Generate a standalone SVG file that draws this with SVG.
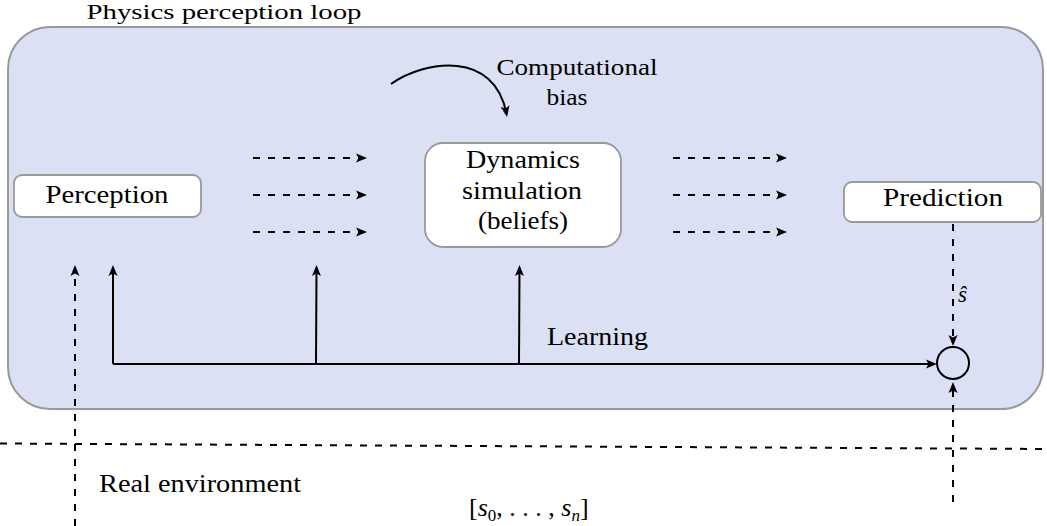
<svg xmlns="http://www.w3.org/2000/svg" width="1047" height="526" viewBox="0 0 1047 526" font-family="Liberation Serif, Times New Roman, serif">
<style>
.t{font-size:26px;fill:#000}
.title{font-size:22px}
.small{font-size:23px}
.node{fill:#fff;stroke:#999;stroke-width:1.8}
.ln{fill:none;stroke:#000;stroke-width:2}
.dash{fill:none;stroke:#000;stroke-width:2;stroke-dasharray:7 8}
</style>
<defs>
<marker id="arr" markerUnits="userSpaceOnUse" markerWidth="14" markerHeight="12" refX="8" refY="5" orient="auto">
<path d="M0,0.5 L11,5 L0,9.5 L2.5,5 z" fill="#000"/>
</marker>
</defs>
<rect width="1047" height="526" fill="#fff"/>
<g id="loop">
<rect x="8" y="27" width="1035" height="382" rx="42" ry="42" fill="#dbe0f4" stroke="#999" stroke-width="2"/>
<text class="t title" x="224" y="19" text-anchor="middle" textLength="275" lengthAdjust="spacingAndGlyphs">Physics perception loop</text>
</g>
<g id="perception">
<rect class="node" x="14" y="175" width="187" height="42" rx="8"/>
<text class="t" x="107" y="203" text-anchor="middle" textLength="123" lengthAdjust="spacingAndGlyphs">Perception</text>
</g>
<g id="dynamics">
<rect class="node" x="425" y="143" width="196" height="104" rx="18"/>
<text class="t" x="523" y="168" text-anchor="middle" textLength="114" lengthAdjust="spacingAndGlyphs">Dynamics</text>
<text class="t" x="522" y="199" text-anchor="middle" textLength="120" lengthAdjust="spacingAndGlyphs">simulation</text>
<text class="t" x="523" y="229" text-anchor="middle" textLength="90" lengthAdjust="spacingAndGlyphs">(beliefs)</text>
</g>
<g id="prediction">
<rect class="node" x="844" y="182" width="197" height="40" rx="8"/>
<text class="t" x="943" y="206" text-anchor="middle" textLength="120" lengthAdjust="spacingAndGlyphs">Prediction</text>
</g>
<g id="comparator">
<circle cx="953" cy="363" r="16" fill="none" stroke="#000" stroke-width="2"/>
</g>
<g id="labels">
<text class="t small" x="577" y="75" text-anchor="middle" textLength="161" lengthAdjust="spacingAndGlyphs">Computational</text>
<text class="t small" x="567" y="105" text-anchor="middle" textLength="41" lengthAdjust="spacingAndGlyphs">bias</text>
<text class="t" x="547" y="345" textLength="101" lengthAdjust="spacingAndGlyphs">Learning</text>
<text class="t small" x="958" y="302" font-style="italic">ŝ</text>
<text class="t" x="99" y="492" textLength="202" lengthAdjust="spacingAndGlyphs">Real environment</text>
<text class="t" x="469" y="516">[<tspan font-style="italic">s</tspan><tspan style="font-size:17px" dy="5">0</tspan><tspan dy="-5">, . . . , </tspan><tspan font-style="italic">s</tspan><tspan style="font-size:17px" font-style="italic" dy="5">n</tspan><tspan dy="-5">]</tspan></text>
</g>
<g id="connectors">
<path class="ln" d="M391,84 C425,60 495,50 506.5,114" marker-end="url(#arr)"/>
<path class="dash" d="M253,158 H364" marker-end="url(#arr)"/>
<path class="dash" d="M253,195 H364" marker-end="url(#arr)"/>
<path class="dash" d="M253,232 H364" marker-end="url(#arr)"/>
<path class="dash" d="M673,158 H784" marker-end="url(#arr)"/>
<path class="dash" d="M673,195 H784" marker-end="url(#arr)"/>
<path class="dash" d="M673,232 H784" marker-end="url(#arr)"/>
<path class="ln" d="M113,364 H934" marker-end="url(#arr)"/>
<path class="ln" d="M113,364 V268" marker-end="url(#arr)"/>
<path class="ln" d="M316,364 L316.5,268" marker-end="url(#arr)"/>
<path class="ln" d="M519,364 L519.5,268" marker-end="url(#arr)"/>
<path class="dash" d="M75,526 V268" marker-end="url(#arr)"/>
<path class="dash" d="M953,224 V343" marker-end="url(#arr)"/>
<path class="dash" d="M953,502 V385" marker-end="url(#arr)"/>
<path class="dash" d="M0,443.5 L1047,449"/>
</g>
</svg>
